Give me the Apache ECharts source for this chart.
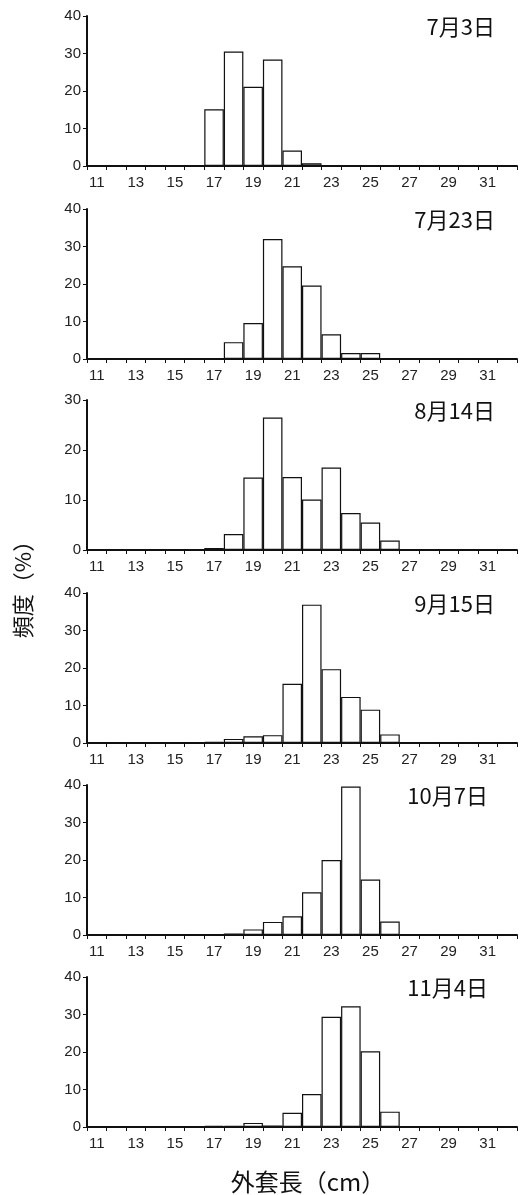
<!DOCTYPE html>
<html>
<head>
<meta charset="utf-8">
<script src="https://cdn.jsdelivr.net/npm/echarts@6/dist/echarts.min.js"></script>
<style>
html,body{margin:0;padding:0;background:#fff;}
#chart{width:526px;height:1195px;}
</style>
</head>
<body>
<div id="chart"></div>
<script>
// Categories: mantle length classes (cm)
const categories = ['11','12','13','14','15','16','17','18','19','20','21','22','23','24','25','26','27','28','29','30','31','32'];
const panelTitles = ['7月3日','7月23日','8月14日','9月15日','10月7日','11月4日'];
const yMaxes = [40, 40, 30, 40, 40, 40];
// frequency (%) per class, index 0 = 11 cm
const jul03 = [0,0,0,0,0,0,15.1,30.5,21.1,28.4,4.1,0.7,0,0,0,0,0,0,0,0,0,0];
const jul23 = [0,0,0,0,0,0,0,4.5,9.6,32.0,24.7,19.6,6.6,1.6,1.6,0,0,0,0,0,0,0];
const aug14 = [0,0,0,0,0,0,0.4,3.2,14.5,26.5,14.6,10.1,16.5,7.4,5.5,1.9,0,0,0,0,0,0];
const sep15 = [0,0,0,0,0,0,0.3,1.1,1.8,2.1,15.8,36.9,19.7,12.3,8.9,2.3,0,0,0,0,0,0];
const oct07 = [0,0,0,0,0,0,0,0.4,1.5,3.5,5.0,11.4,20.0,39.6,14.8,3.6,0,0,0,0,0,0];
const nov04 = [0,0,0,0,0,0,0.3,0.3,1.1,0.4,3.8,8.8,29.4,32.2,20.2,4.1,0,0,0,0,0,0];
const seriesData = [jul03, jul23, aug14, sep15, oct07, nov04];
const yAxisName = '頻度（%）';
const xAxisName = '外套長（cm）';

const numFont = "'Liberation Sans',Arial,sans-serif";
const cjkFont = "'Noto Sans CJK JP','Noto Sans CJK SC',sans-serif";

const gridTops = [16, 209, 400, 593, 785, 977];
const gridH = 150;
const titleRight = [26, 26, 26, 26, 33, 33];

const grids = [], xAxes = [], yAxes = [], series = [], titles = [];
for (let i = 0; i < 6; i++) {
  grids.push({left: 87, width: 430, top: gridTops[i], height: gridH});
  xAxes.push({
    type: 'category', gridIndex: i, data: categories, boundaryGap: true,
    axisLine: {lineStyle: {color: '#111', width: 2}},
    axisTick: {show: true, interval: 0, length: 4, lineStyle: {color: '#111', width: 1}},
    axisLabel: {interval: 1, color: '#222', fontSize: 15, fontFamily: numFont, margin: 9},
    splitLine: {show: false}
  });
  yAxes.push({
    type: 'value', gridIndex: i, min: 0, max: yMaxes[i], interval: 10,
    axisLine: {show: true, lineStyle: {color: '#111', width: 2}},
    axisTick: {show: true, length: 4, lineStyle: {color: '#111', width: 1}},
    axisLabel: {color: '#222', fontSize: 15, fontFamily: numFont, margin: 6},
    splitLine: {show: false}
  });
  series.push({
    type: 'bar', xAxisIndex: i, yAxisIndex: i, data: seriesData[i],
    barCategoryGap: '0%',
    itemStyle: {color: '#fff', borderColor: '#111', borderWidth: 1.2},
    silent: true
  });
  titles.push({
    text: panelTitles[i], right: titleRight[i], top: gridTops[i] - 5,
    textStyle: {fontSize: 22, fontWeight: 'normal', color: '#111', fontFamily: cjkFont}
  });
}

const chart = echarts.init(document.getElementById('chart'), null, {renderer: 'canvas'});
chart.setOption({
  backgroundColor: '#fff',
  animation: false,
  title: titles,
  grid: grids,
  xAxis: xAxes,
  yAxis: yAxes,
  series: series,
  graphic: [
    {type: 'text', x: 23, y: 584, rotation: Math.PI / 2,
     style: {text: yAxisName, fontSize: 22, fontFamily: cjkFont, fill: '#111', align: 'center', verticalAlign: 'middle'}},
    {type: 'text', x: 308, y: 1182,
     style: {text: xAxisName, fontSize: 24, fontFamily: cjkFont, fill: '#111', align: 'center', verticalAlign: 'middle'}}
  ]
});
</script>
</body>
</html>
